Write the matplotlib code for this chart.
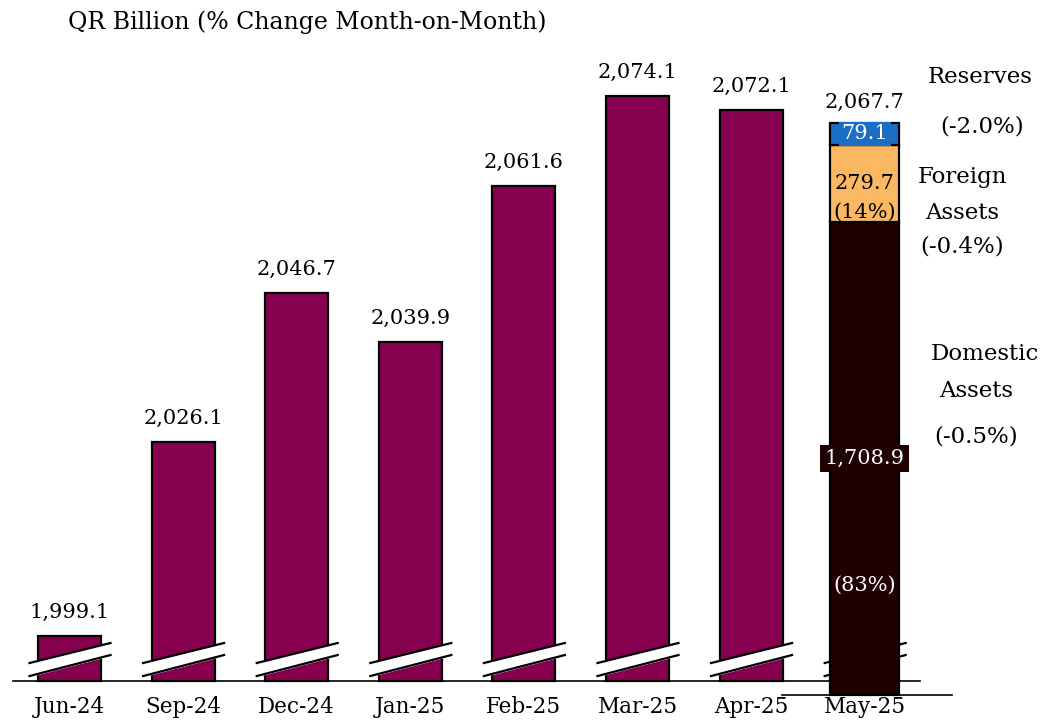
import numpy as np
import matplotlib
matplotlib.use("Agg")
import matplotlib.pyplot as plt

plt.rcParams['font.family'] = ['DejaVu Serif']

# data
months = ['Jun-24', 'Sep-24', 'Dec-24', 'Jan-25', 'Feb-25', 'Mar-25', 'Apr-25', 'May-25']
totals = [1999.1, 2026.1, 2046.7, 2039.9, 2061.6, 2074.1, 2072.1]
may_parts = ['Domestic Assets', 'Foreign Assets', 'Reserves']
may_values = [1708.9, 279.7, 79.1]
may_total = 2067.7
may_shares = ['(83%)', '(14%)', '']
may_changes = ['(-0.5%)', '(-0.4%)', '(-2.0%)']

maroon = '#87004F'
dark = '#200000'
orange = '#FBB862'
blue = '#1A6FC4'

fs_num = 15
fs_word = 16.5

fig = plt.figure(figsize=(10.48, 7.24), dpi=100)
ax = fig.add_axes([0, 0, 1, 1])
ax2 = fig.add_axes([0, 0, 1, 1])
for a in (ax, ax2):
    a.set_xlim(-0.612, 8.614)
    a.axis('off')
ax2.patch.set_visible(False)

# main (broken) scale and the full scale of the last bar
ax.set_ylim(1986.88, 2087.43)
ax2.set_ylim(-104.8, 2512.3)
base = 1992.85
w = 0.555

x = np.arange(len(totals))
ax.bar(x, np.array(totals) - base, bottom=base, width=w, color=maroon,
       edgecolor='black', linewidth=1.6, zorder=2)
for xi, v in zip(x, totals):
    ax.annotate(f'{v:,.1f}', (xi, v), xytext=(0, 17), textcoords='offset points',
                ha='center', va='center', fontsize=fs_num)

# break marks
for xi in range(len(months)):
    xs = np.array([xi - 0.352, xi + 0.361])
    lo = np.array([1993.54, 1996.46])
    hi = np.array([1995.35, 1998.13])
    ax.fill_between(xs, lo, hi, color='white', zorder=3)
    ax.plot(xs, lo, color='black', lw=1.6, zorder=4)
    ax.plot(xs, hi, color='black', lw=1.6, zorder=4)

ax.plot([-0.497, 7.486], [base, base], color='black', lw=1.2, zorder=1)
ax2.plot([6.27, 7.77], [0, 0], color='black', lw=1.2, zorder=1)

# stacked last bar
xm = len(totals)
bottoms = np.concatenate([[0], np.cumsum(may_values)[:-1]])
cols = [dark, orange, blue]
ax2.bar([xm] * 3, may_values, bottom=bottoms, width=0.61, color=cols,
        edgecolor='black', linewidth=1.6, zorder=2)

mid = bottoms + np.array(may_values) / 2
ax2.text(xm, mid[0], f'{may_values[0]:,.1f}', ha='center', va='center', color='white',
         fontsize=fs_num, zorder=5,
         bbox=dict(boxstyle='square,pad=0.2', fc=dark, ec='none'))
ax2.text(xm, may_values[0] * 0.233, may_shares[0], ha='center', va='center',
         color='white', fontsize=fs_num, zorder=5)
ax2.annotate(f'{may_values[1]:,.1f}', (xm, mid[1]), xytext=(0, 0), textcoords='offset points',
             ha='center', va='center', fontsize=fs_num, zorder=5)
ax2.annotate(may_shares[1], (xm, mid[1]), xytext=(0, -21), textcoords='offset points',
             ha='center', va='center', fontsize=fs_num, zorder=5)
ax2.text(xm, mid[2], f'{may_values[2]:,.1f}', ha='center', va='center', color='white',
         fontsize=fs_num, zorder=5,
         bbox=dict(boxstyle='square,pad=0.12', fc=blue, ec='none'))
ax2.annotate(f'{may_total:,.1f}', (xm, may_total), xytext=(0, 15), textcoords='offset points',
             ha='center', va='center', fontsize=fs_num)

# x labels
for xi, m in enumerate(months):
    ax.annotate(m, (xi, base), xytext=(0, -19), textcoords='offset points',
                ha='center', va='center', fontsize=15.5)

# side notes
W, H = 1048, 724
def ftext(px, py, s):
    fig.text(px / W, 1 - py / H, s, ha='center', va='center', fontsize=fs_word)

ftext(980, 77, 'Reserves')
ftext(982, 126, may_changes[2])
ftext(962, 177, 'Foreign')
ftext(962, 213, 'Assets')
ftext(962, 246, may_changes[1])
ftext(985, 354, 'Domestic')
ftext(976, 391, 'Assets')
ftext(976, 437, may_changes[0])

fig.text(68 / W, 1 - 22 / H, 'QR Billion (% Change Month-on-Month)', ha='left', va='center',
         fontsize=17)

fig.savefig('out.png', dpi=100)
